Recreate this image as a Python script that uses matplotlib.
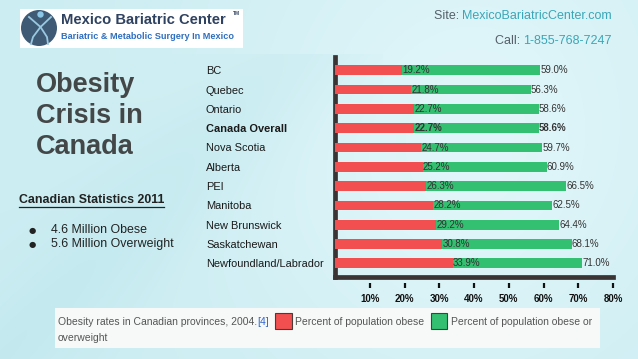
import numpy as np
import matplotlib
matplotlib.use("Agg")
import matplotlib.pyplot as plt
from matplotlib.patches import Rectangle, Circle
from matplotlib.transforms import blended_transform_factory

# ---------------- data ----------------
regions = ["BC", "Quebec", "Ontario", "Canada Overall", "Nova Scotia", "Alberta",
           "PEI", "Manitoba", "New Brunswick", "Saskatchewan", "Newfoundland/Labrador"]
obese = [19.2, 21.8, 22.7, 22.7, 24.7, 25.2, 26.3, 28.2, 29.2, 30.8, 33.9]
obese_or_overweight = [59.0, 56.3, 58.6, 58.6, 59.7, 60.9, 66.5, 62.5, 64.4, 68.1, 71.0]
x_ticks = [10, 20, 30, 40, 50, 60, 70, 80]
x_tick_labels = ["10%", "20%", "30%", "40%", "50%", "60%", "70%", "80%"]
highlight = "Canada Overall"

RED = "#f25050"
GREEN = "#34c071"
FONT = "Liberation Sans"
W, H = 638, 359

fig = plt.figure(figsize=(W / 100, H / 100), dpi=100)

# ---------------- background (pixel coordinate axes) ----------------
bg = fig.add_axes([0, 0, 1, 1])
bg.set_xlim(0, W)
bg.set_ylim(H, 0)
bg.axis("off")
yy, xx = np.mgrid[0:H, 0:W]
u = xx / W
v = yy / H
base = np.exp(-(((u - 0.72) / 0.35) ** 2 + ((v - 0.45) / 0.7) ** 2))
band = np.exp(-((u + 0.55 * v - 0.55) / 0.12) ** 2)
light = np.clip(0.55 * base + 0.15 * (1 - v) * u, 0, 1) - 0.25 * band * (v > 0.15) * (u < 0.6)
light = np.clip(light, -0.3, 1)
c0 = np.array([0.80, 0.93, 0.95])
c1 = np.array([0.93, 0.985, 0.995])
img = c0[None, None, :] + (c1 - c0)[None, None, :] * light[..., None]
img = np.clip(img, 0, 1)
bg.imshow(img, extent=(0, W, H, 0), aspect="auto", zorder=0)

# logo
bg.add_patch(Rectangle((20, 9), 223, 39, facecolor="white", edgecolor="none", zorder=1))
bg.add_patch(Circle((39, 28), 18, facecolor="#3f5a75", edgecolor="none", zorder=2))
bg.add_patch(Circle((40.5, 14.5), 3.2, facecolor="#8cc6e6", edgecolor="none", zorder=3))
bg.plot([29, 40.5, 51], [17, 27, 17], color="#9ac8e0", lw=1.3, zorder=3)
bg.plot([40.5, 33, 31], [27, 37, 44], color="#9ac8e0", lw=1.3, zorder=3)
bg.plot([40.5, 47, 48], [27, 37, 44], color="#9ac8e0", lw=1.3, zorder=3)
bg.text(61, 20.5, "Mexico Bariatric Center", fontsize=10.6, fontweight="heavy",
        family=FONT, color="#2f4260", va="center", ha="left", zorder=3)
bg.text(233, 13.5, "TM", fontsize=3.5, fontweight="bold", family=FONT,
        color="#2f4260", va="center", ha="left", zorder=3)
bg.text(61, 36.5, "Bariatric & Metabolic Surgery In Mexico", fontsize=6.6,
        fontweight="bold", family=FONT, color="#2f6fc0", va="center", ha="left", zorder=3)

# header contact lines (right aligned)
t1 = bg.text(612, 16, "MexicoBariatricCenter.com", fontsize=9, family=FONT,
             color="#3aa6b8", ha="right", va="center", zorder=3)
bg.annotate("Site: ", xy=(0, 0.5), xycoords=t1, fontsize=9, family=FONT,
            color="#55606a", ha="right", va="center", zorder=3)
t2 = bg.text(612, 41, "1-855-768-7247", fontsize=9, family=FONT,
             color="#3aa6b8", ha="right", va="center", zorder=3)
bg.annotate("Call: ", xy=(0, 0.5), xycoords=t2, fontsize=9, family=FONT,
            color="#55606a", ha="right", va="center", zorder=3)

# left title block
for i, line in enumerate(["Obesity", "Crisis in", "Canada"]):
    bg.text(36, 85 + 31 * i, line, fontsize=19.5, fontweight="bold", family=FONT,
            color="#444748", ha="left", va="center", zorder=3)
bg.text(19, 200, "Canadian Statistics 2011", fontsize=8.9, fontweight="bold",
        family=FONT, color="#222222", ha="left", va="center", zorder=3)
bg.plot([19, 164], [207, 207], color="#222222", lw=0.9, zorder=3)
for i, line in enumerate(["4.6 Million Obese", "5.6 Million Overweight"]):
    bg.text(32, 230 + 14.5 * i, "\u25cf", fontsize=6, family="DejaVu Sans",
            color="#222222", ha="center", va="center", zorder=3)
    bg.text(51, 230 + 14.5 * i, line, fontsize=8.9, family=FONT,
            color="#222222", ha="left", va="center", zorder=3)

# caption / legend box
bg.add_patch(Rectangle((55, 308), 545, 40, facecolor="#f7f9f9", edgecolor="none", zorder=1))
c1t = bg.text(58, 321.7, "Obesity rates in Canadian provinces, 2004.", fontsize=7.5,
              family=FONT, color="#555555", ha="left", va="center", zorder=3)
bg.annotate("[4]", xy=(1, 0.5), xycoords=c1t, fontsize=7.5, family=FONT,
            color="#3366cc", ha="left", va="center", zorder=3)
bg.add_patch(Rectangle((275, 313), 16.5, 16, facecolor=RED, edgecolor="#4a3a3a", lw=0.8, zorder=3))
bg.text(295, 321.7, "Percent of population obese", fontsize=7.5, family=FONT,
        color="#555555", ha="left", va="center", zorder=3)
bg.add_patch(Rectangle((431, 313), 16, 16, facecolor=GREEN, edgecolor="#2f4a3a", lw=0.8, zorder=3))
bg.text(451, 321.7, "Percent of population obese or", fontsize=7.5, family=FONT,
        color="#555555", ha="left", va="center", zorder=3)
bg.text(58, 338.3, "overweight", fontsize=7.5, family=FONT,
        color="#555555", ha="left", va="center", zorder=3)

# ---------------- bar chart ----------------
ax = fig.add_axes([335 / W, 1 - 277 / H, 278 / W, 220 / H])
ax.patch.set_alpha(0)
n = len(regions)
ypos = np.arange(n)
bar_h = 0.5
ax.barh(ypos, obese_or_overweight, height=bar_h, color=GREEN, zorder=2)
ax.barh(ypos, obese, height=bar_h, color=RED, zorder=3)
ax.set_xlim(0, 80)
ax.set_ylim(n - 1 + 0.71, -0.69)

for y, r, o, ow in zip(ypos, regions, obese, obese_or_overweight):
    wt = "bold" if r == highlight else "normal"
    ax.text(o + 0.1, y, f"{o:.1f}%", fontsize=7, family=FONT, fontweight=wt,
            color="#333333", ha="left", va="center", zorder=4)
    ax.text(ow + 0.1, y, f"{ow:.1f}%", fontsize=7, family=FONT, fontweight=wt,
            color="#333333", ha="left", va="center", zorder=4)

lab_tr = blended_transform_factory(fig.transFigure, ax.transData)
for y, r in zip(ypos, regions):
    wt = "bold" if r == highlight else "normal"
    ax.text(206 / W, y + 0.05, r, transform=lab_tr, fontsize=7.9, family=FONT,
            fontweight=wt, color="#1a1a1a", ha="left", va="center", clip_on=False)

for s in ["top", "right"]:
    ax.spines[s].set_visible(False)
for s in ["left", "bottom"]:
    ax.spines[s].set_linewidth(3.4)
    ax.spines[s].set_color("#3a3434")
    ax.spines[s].set_capstyle("projecting")
ax.set_yticks([])
ax.set_xticks(x_ticks)
ax.set_xticklabels(x_tick_labels, fontsize=7, fontweight="bold", family=FONT, color="#111111")
ax.tick_params(axis="x", length=0, pad=12)
xt = ax.get_xaxis_transform()
ax.vlines(x_ticks, -0.027, -0.05, transform=xt, colors="#111111", lw=1.6, clip_on=False)

fig.savefig("out.png", dpi=100)
